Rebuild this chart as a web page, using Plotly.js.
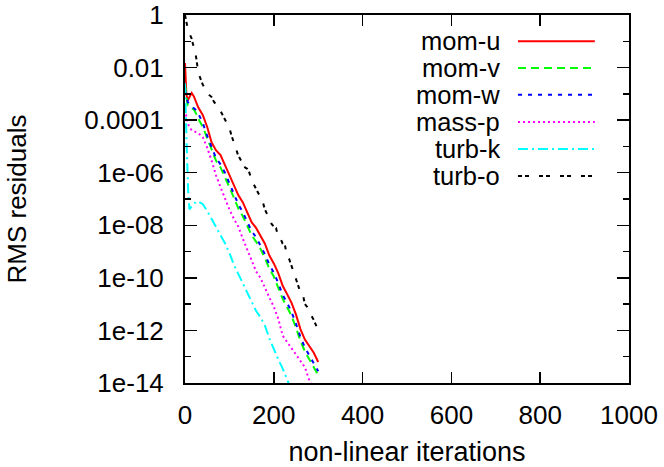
<!DOCTYPE html>
<html><head><meta charset="utf-8">
<script src="https://cdn.plot.ly/plotly-3.0.1.min.js"></script>
<style>html,body{margin:0;padding:0;background:#fff}</style>
</head><body><div id="chart" style="width:664px;height:467px"></div>
<script>
// iterations and log10(RMS residual)
const iterMain = [0,3,6,10,15,20,25,30,40,50,60,70,80,90,100,110,120,130,140,150,160,170,180,190,200,210,220,230,240,250,260,270,280,290,300];
const momU_log10 = [-1.83,-3.0,-3.25,-3.1,-2.97,-3.1,-3.35,-3.52,-3.8,-4.26,-4.85,-5.15,-5.33,-5.7,-6.05,-6.48,-6.85,-7.12,-7.5,-7.88,-8.1,-8.38,-8.7,-9.15,-9.45,-9.82,-10.3,-10.62,-10.95,-11.4,-11.95,-12.35,-12.6,-12.85,-13.2];
const momV_log10 = [-2.66,-3.2,-3.45,-3.5,-3.55,-3.6,-3.75,-3.95,-4.25,-4.7,-5.15,-5.55,-5.8,-6.15,-6.55,-6.95,-7.35,-7.65,-8.0,-8.38,-8.62,-8.9,-9.25,-9.65,-9.95,-10.35,-10.8,-11.12,-11.45,-11.9,-12.4,-12.8,-13.1,-13.35,-13.7];
const momW_log10 = [-2.85,-3.15,-3.3,-3.4,-3.48,-3.55,-3.62,-3.75,-4.1,-4.6,-5.05,-5.45,-5.68,-6.0,-6.4,-6.8,-7.2,-7.5,-7.85,-8.22,-8.45,-8.75,-9.1,-9.5,-9.8,-10.2,-10.65,-10.95,-11.3,-11.75,-12.25,-12.65,-12.95,-13.2,-13.55];
const massP_log10 = [-3.6,-3.9,-4.1,-4.28,-4.38,-4.42,-4.45,-4.5,-4.65,-5.05,-5.55,-6.1,-6.55,-7.0,-7.4,-7.75,-8.05,-8.5,-8.9,-9.35,-9.75,-10.0,-10.4,-10.75,-11.1,-11.55,-12.2,-12.45,-12.7,-12.95,-13.15,-13.4,-13.9,-14.3,-14.6];
const iterK = [0,2,4,7,10,14,20,25,30,36,40,50,60,70,80,90,100,110,120,130,140,150,160,170,180,190,200,210,220,230,240,250];
const turbK_log10 = [-2.6,-4.2,-5.1,-6.65,-7.4,-7.3,-7.18,-7.1,-7.1,-7.15,-7.2,-7.45,-7.75,-8.05,-8.35,-8.68,-9.05,-9.5,-9.85,-10.2,-10.55,-10.95,-11.25,-11.5,-11.82,-12.3,-12.72,-13.1,-13.45,-13.9,-14.3,-14.7];
const iterO = [0,3,6,10,15,20,25,30,35,40,45,50,55,60,65,70,75,80,85,90,95,100,105,110,115,120,125,130,135,140,145,150,155,160,165,170,175,180,185,190,195,200,205,210,215,220,225,230,235,240,245,250,255,260,265,270,275,280,285,290,295,300];
const turbO_log10 = [0,-0.3,-0.5,-0.7,-0.9,-1.25,-1.6,-2.2,-2.45,-2.65,-2.8,-2.95,-3.05,-3.12,-3.3,-3.4,-3.5,-3.65,-3.8,-3.95,-4.15,-4.3,-4.6,-4.85,-5.05,-5.35,-5.5,-5.45,-5.8,-5.85,-6.0,-6.3,-6.45,-6.6,-6.8,-6.95,-7.1,-7.4,-7.55,-7.75,-7.95,-8.05,-8.1,-8.45,-8.5,-8.7,-8.75,-9.2,-9.3,-9.55,-9.8,-10.0,-10.3,-10.55,-10.6,-11.0,-11.1,-11.3,-11.45,-11.6,-11.8,-12.0];

const seriesNames = ['mom-u','mom-v','mom-w','mass-p','turb-k','turb-o'];
const seriesColors = ['#ff0000','#00ff00','#0000ff','#ff00ff','#00ffff','#000000'];
const seriesDash = ['solid','8px,5px','4px,6px','2px,3px','10px,4px,2px,4px','4px,3px,4px,10px'];
const seriesX = [iterMain,iterMain,iterMain,iterMain,iterK,iterO];
const seriesY = [momU_log10,momV_log10,momW_log10,massP_log10,turbK_log10,turbO_log10];

const yTickVals = [1,1e-2,1e-4,1e-6,1e-8,1e-10,1e-12,1e-14];
const yTickText = ['1','0.01','0.0001','1e-06','1e-08','1e-10','1e-12','1e-14'];
const yMinorVals = [1e-1,1e-3,1e-5,1e-7,1e-9,1e-11,1e-13];

const FONT = 'Liberation Sans, Arial, Helvetica, sans-serif';
const traces = seriesNames.map((n,i)=>({
  type:'scatter', mode:'lines', name:n,
  x: seriesX[i], y: seriesY[i].map(v=>Math.pow(10,v)),
  line:{color:seriesColors[i], width:2, dash:seriesDash[i]},
  showlegend:false
}));

const legendRowY = [0.929,0.856,0.783,0.709,0.636,0.5625];
const annotations = seriesNames.map((n,i)=>({
  xref:'paper', yref:'paper', x:0.714, y:legendRowY[i], xanchor:'right', yanchor:'middle',
  text:n, showarrow:false, font:{family:FONT, size:25.5, color:'#000'}
}));
const shapes = seriesNames.map((n,i)=>({
  type:'line', xref:'paper', yref:'paper', x0:0.75, x1:0.923, y0:legendRowY[i], y1:legendRowY[i],
  line:{color:seriesColors[i], width:2, dash:seriesDash[i]}
}));

const layout = {
  width:664, height:467,
  margin:{l:185, r:35, t:15, b:84},
  paper_bgcolor:'#fff', plot_bgcolor:'#fff',
  font:{family:FONT, size:26, color:'#000'},
  xaxis:{
    range:[0,1000], dtick:200, tick0:0,
    showgrid:false, zeroline:false,
    showline:true, linecolor:'#000', linewidth:2, mirror:'ticks',
    ticks:'inside', ticklen:11, tickwidth:1.5, tickcolor:'#000',
    ticklabelstandoff:8, tickfont:{family:FONT,size:26},
    title:{text:'non-linear iterations', font:{family:FONT,size:27}, standoff:24}
  },
  yaxis:{
    type:'log', range:[-14,0],
    tickmode:'array', tickvals:yTickVals, ticktext:yTickText,
    showgrid:false, zeroline:false,
    showline:true, linecolor:'#000', linewidth:2, mirror:'ticks',
    ticks:'inside', ticklen:12, tickwidth:1.5, tickcolor:'#000',
    ticklabelstandoff:14, tickfont:{family:FONT,size:26},
    minor:{tickvals:yMinorVals, ticks:'inside', ticklen:6, tickwidth:1.5, tickcolor:'#000', showgrid:false},
    title:{text:'RMS residuals', font:{family:FONT,size:26}, standoff:50}
  },
  annotations:annotations,
  shapes:shapes
};
Plotly.newPlot('chart', traces, layout, {displayModeBar:false, staticPlot:true});
</script></body></html>
